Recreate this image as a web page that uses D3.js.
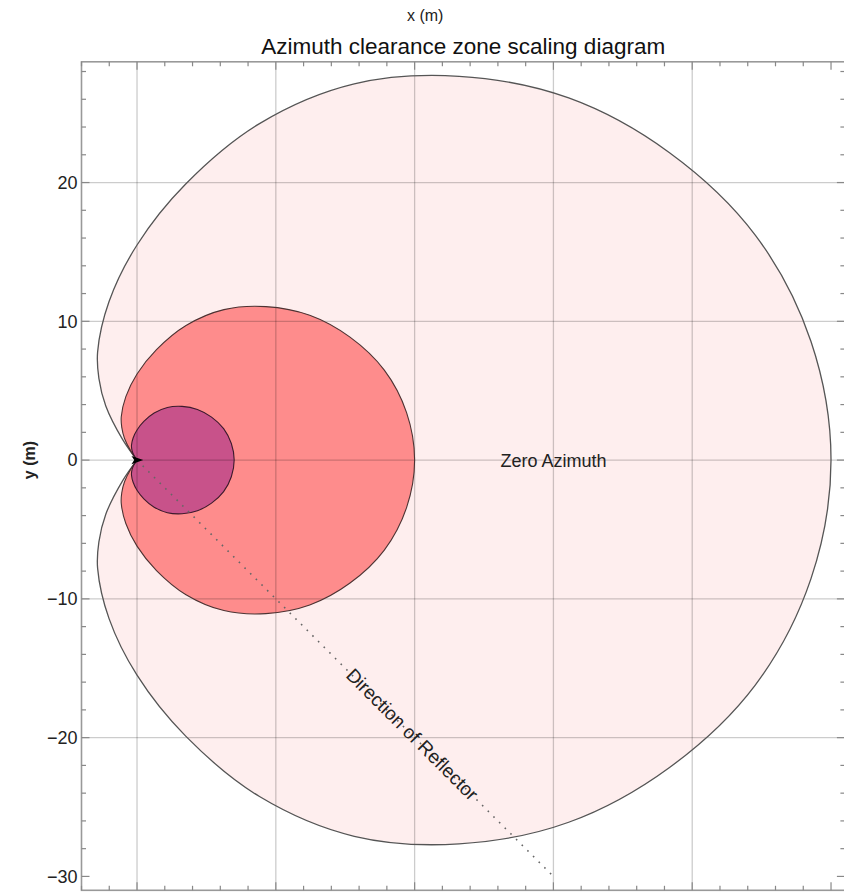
<!DOCTYPE html>
<html>
<head>
<meta charset="utf-8">
<script src="https://cdn.jsdelivr.net/npm/d3@7"></script>
<style>
  html, body { margin: 0; padding: 0; background: #fff; }
  svg { display: block; font-family: "Liberation Sans", Arial, sans-serif; }
</style>
</head>
<body>
<svg id="chart" width="844" height="894"></svg>
<script>
// ---- data ----
const angles   = [0, 10, 20, 30, 40, 50, 60, 70, 80, 90, 100, 110, 115, 120, 125, 130]; // degrees from zero azimuth
const outerR   = [50, 49.3, 47.4, 44.3, 40.6, 36.1, 31.3, 25.8, 20.2, 15.5, 11.6, 8.3, 6.5, 4.5, 1.8, 0];
const middleR  = [20, 19.72, 18.96, 17.72, 16.24, 14.44, 12.52, 10.32, 8.08, 6.2, 4.64, 3.32, 2.6, 1.8, 0.72, 0];
const innerR   = [7, 6.9, 6.64, 6.2, 5.68, 5.05, 4.38, 3.61, 2.83, 2.17, 1.62, 1.16, 0.91, 0.63, 0.25, 0];
const reflectorEnd = [30, -30];
const zeroAzimuthPos = [30, 0];
const xGrid = [0, 10, 20, 30, 40];
const yGrid = [-20, -10, 0, 10, 20];
const xMajorTicks = [0, 10, 20, 30, 40, 50];
const yMajorTicks = [-30, -20, -10, 0, 10, 20];
const xDomain = [-4, 51];
const yDomain = [-31, 28.7];

// ---- layout ----
const svg = d3.select("#chart");
const L = 81.5, R = 844.9, T = 61.8, B = 890.3;
const x = d3.scaleLinear().domain(xDomain).range([L, R]);
const y = d3.scaleLinear().domain(yDomain).range([B, T]);

const xMinor = d3.range(-4, 51, 2).filter(v => !xMajorTicks.includes(v));
const yMinor = d3.range(-30, 29, 2).filter(v => !yMajorTicks.includes(v));

// zone outline (symmetric about the zero-azimuth axis)
function zonePoints(radii) {
  const pts = [];
  for (let i = angles.length - 1; i >= 0; i--) pts.push([-angles[i], radii[i]]);
  for (let i = 1; i < angles.length; i++) pts.push([angles[i], radii[i]]);
  return pts.map(([a, r]) => [r * Math.cos(a * Math.PI / 180), r * Math.sin(a * Math.PI / 180)]);
}
const line = d3.line().x(d => x(d[0])).y(d => y(d[1])).curve(d3.curveCatmullRom.alpha(0.5));

svg.append("clipPath").attr("id", "plotclip")
  .append("rect").attr("x", L).attr("y", T).attr("width", R - L).attr("height", B - T);
const plot = svg.append("g").attr("clip-path", "url(#plotclip)");

const zones = [
  { r: outerR,  fill: "#feeeee", stroke: "#555555", w: 1.3 },
  { r: middleR, fill: "#fe8c8c", stroke: "#4d3333", w: 1.1 },
  { r: innerR,  fill: "#c8528a", stroke: "#3d1a2c", w: 1.1 }
];
zones.forEach(z => {
  plot.append("path").attr("d", line(zonePoints(z.r)) + "Z")
    .attr("fill", z.fill).attr("stroke", "none");
});

// grid lines (seen through the translucent zones)
plot.append("g").selectAll("line").data(xGrid).join("line")
  .attr("x1", d => x(d)).attr("x2", d => x(d)).attr("y1", T).attr("y2", B)
  .attr("stroke", "rgba(0,0,0,0.2)").attr("stroke-width", 1.3);
plot.append("g").selectAll("line").data(yGrid).join("line")
  .attr("y1", d => y(d)).attr("y2", d => y(d)).attr("x1", L).attr("x2", R)
  .attr("stroke", "rgba(0,0,0,0.2)").attr("stroke-width", 1.3);

zones.forEach(z => {
  plot.append("path").attr("d", line(zonePoints(z.r)) + "Z")
    .attr("fill", "none").attr("stroke", z.stroke).attr("stroke-width", z.w);
});

// direction of reflector dotted line
plot.append("line")
  .attr("x1", x(0)).attr("y1", y(0)).attr("x2", x(reflectorEnd[0])).attr("y2", y(reflectorEnd[1]))
  .attr("stroke", "#666").attr("stroke-width", 1.6).attr("stroke-dasharray", "1.6,6.4");

// arrow head at the origin
plot.append("path")
  .attr("d", `M${x(0.45)},${y(0)} L${x(-0.4)},${y(0.3)} L${x(-0.2)},${y(0)} L${x(-0.4)},${y(-0.3)} Z`)
  .attr("fill", "#000");

// labels inside plot
plot.append("text")
  .attr("x", x(zeroAzimuthPos[0])).attr("y", y(zeroAzimuthPos[1]) + 7)
  .attr("text-anchor", "middle").attr("font-size", 18).attr("fill", "#222")
  .text("Zero Azimuth");

const mid = [x(reflectorEnd[0] * 0.66), y(reflectorEnd[1] * 0.66)];
plot.append("text")
  .attr("transform", `translate(${mid[0]},${mid[1]}) rotate(45)`)
  .attr("text-anchor", "middle").attr("dy", 6).attr("font-size", 19).attr("fill", "#222")
  .text("Direction of Reflector");

// frame
svg.append("rect").attr("x", L).attr("y", T).attr("width", R - L).attr("height", B - T)
  .attr("fill", "none").attr("stroke", "#999").attr("stroke-width", 1.6);

// ticks (inward on all four sides)
const tickColor = "#888";
function xTicks(vals, len) {
  svg.append("g").selectAll("line").data(vals).join("line")
    .attr("x1", d => x(d)).attr("x2", d => x(d)).attr("y1", B).attr("y2", B - len)
    .attr("stroke", tickColor).attr("stroke-width", 1.2);
  svg.append("g").selectAll("line").data(vals).join("line")
    .attr("x1", d => x(d)).attr("x2", d => x(d)).attr("y1", T).attr("y2", T + len)
    .attr("stroke", tickColor).attr("stroke-width", 1.2);
}
function yTicks(vals, len) {
  svg.append("g").selectAll("line").data(vals).join("line")
    .attr("y1", d => y(d)).attr("y2", d => y(d)).attr("x1", L).attr("x2", L + len)
    .attr("stroke", tickColor).attr("stroke-width", 1.2);
  svg.append("g").selectAll("line").data(vals).join("line")
    .attr("y1", d => y(d)).attr("y2", d => y(d)).attr("x1", R).attr("x2", R - len)
    .attr("stroke", tickColor).attr("stroke-width", 1.2);
}
xTicks(xMajorTicks, 8); xTicks(xMinor, 4.5);
yTicks(yMajorTicks, 8); yTicks(yMinor, 4.5);

// y tick labels via axis
const yAxis = d3.axisLeft(y).tickValues(yMajorTicks).tickSize(0).tickPadding(4);
const ya = svg.append("g").attr("transform", `translate(${L},0)`).call(yAxis);
ya.select(".domain").remove();
ya.selectAll("text").attr("font-size", 18).attr("fill", "#222")
  .attr("font-family", "Liberation Sans, Arial, sans-serif");

// titles
svg.append("text").attr("x", (L + R) / 2 - 38).attr("y", 21)
  .attr("text-anchor", "middle").attr("font-size", 16).attr("fill", "#222").text("x (m)");
svg.append("text").attr("x", (L + R) / 2).attr("y", 54)
  .attr("text-anchor", "middle").attr("font-size", 22.5).attr("fill", "#111")
  .text("Azimuth clearance zone scaling diagram");
svg.append("text")
  .attr("transform", `translate(35,${y(0)}) rotate(-90)`)
  .attr("text-anchor", "middle").attr("font-size", 16).attr("font-weight", "bold").attr("fill", "#222")
  .text("y (m)");
</script>
</body>
</html>
